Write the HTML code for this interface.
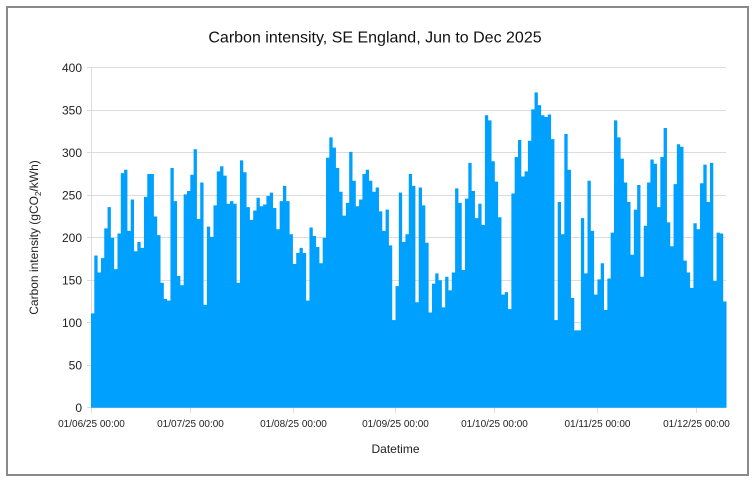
<!DOCTYPE html>
<html>
<head>
<meta charset="utf-8">
<style>
html,body{margin:0;padding:0;background:#fff;}
svg{display:block;}
text{font-family:"Liberation Sans",Arial,sans-serif;}
</style>
</head>
<body>
<svg width="754" height="481" viewBox="0 0 754 481" xmlns="http://www.w3.org/2000/svg">
<rect x="0" y="0" width="754" height="481" fill="#fff"/>
<rect x="7" y="7" width="741" height="468" fill="none" stroke="#8a8a8a" stroke-width="2"/>
<text x="375" y="42.5" font-size="16" text-anchor="middle" fill="#111">Carbon intensity, SE England, Jun to Dec 2025</text>
<g stroke="#dcdcdc" stroke-width="1">
<line x1="87" y1="67.5" x2="726" y2="67.5"/>
<line x1="87" y1="110.5" x2="726" y2="110.5"/>
<line x1="87" y1="152.5" x2="726" y2="152.5"/>
<line x1="87" y1="195.5" x2="726" y2="195.5"/>
<line x1="87" y1="237.5" x2="726" y2="237.5"/>
<line x1="87" y1="280.5" x2="726" y2="280.5"/>
<line x1="87" y1="322.5" x2="726" y2="322.5"/>
<line x1="87" y1="365.5" x2="726" y2="365.5"/>
<line x1="87" y1="407.5" x2="726" y2="407.5"/>
<line x1="91.5" y1="67.5" x2="91.5" y2="413"/>
<line x1="190.5" y1="408" x2="190.5" y2="413"/>
<line x1="293.5" y1="408" x2="293.5" y2="413"/>
<line x1="395.5" y1="408" x2="395.5" y2="413"/>
<line x1="494.5" y1="408" x2="494.5" y2="413"/>
<line x1="597.5" y1="408" x2="597.5" y2="413"/>
<line x1="696.5" y1="408" x2="696.5" y2="413"/>
</g>
<g transform="translate(91,407.7) scale(3.31,-0.85)">
<path fill="#00a0ff" d="M0,0 V111 H1 V179 H2 V159 H3 V176 H4 V211 H5 V236 H6 V200 H7 V163 H8 V205 H9 V276 H10 V280 H11 V208 H12 V245 H13 V184 H14 V195 H15 V188 H16 V248 H17 V275 H18 V275 H19 V225 H20 V203 H21 V147 H22 V128 H23 V126 H24 V282 H25 V243 H26 V155 H27 V144 H28 V251 H29 V255 H30 V274 H31 V304 H32 V222 H33 V265 H34 V121 H35 V213 H36 V201 H37 V238 H38 V278 H39 V284 H40 V273 H41 V240 H42 V243 H43 V240 H44 V147 H45 V291 H46 V277 H47 V236 H48 V221 H49 V232 H50 V247 H51 V237 H52 V239 H53 V249 H54 V253 H55 V235 H56 V210 H57 V243 H58 V261 H59 V243 H60 V204 H61 V169 H62 V182 H63 V188 H64 V182 H65 V126 H66 V212 H67 V202 H68 V189 H69 V170 H70 V200 H71 V294 H72 V318 H73 V306 H74 V282 H75 V254 H76 V226 H77 V241 H78 V301 H79 V267 H80 V237 H81 V245 H82 V275 H83 V280 H84 V267 H85 V254 H86 V259 H87 V231 H88 V208 H89 V233 H90 V191 H91 V103 H92 V143 H93 V253 H94 V195 H95 V204 H96 V275 H97 V261 H98 V124 H99 V259 H100 V238 H101 V194 H102 V112 H103 V146 H104 V158 H105 V150 H106 V118 H107 V154 H108 V138 H109 V159 H110 V258 H111 V241 H112 V162 H113 V246 H114 V288 H115 V255 H116 V223 H117 V240 H118 V215 H119 V344 H120 V338 H121 V290 H122 V266 H123 V224 H124 V133 H125 V136 H126 V116 H127 V252 H128 V295 H129 V315 H130 V272 H131 V278 H132 V314 H133 V351 H134 V371 H135 V356 H136 V344 H137 V342 H138 V345 H139 V316 H140 V103 H141 V242 H142 V204 H143 V322 H144 V280 H145 V129 H146 V91 H147 V91 H148 V223 H149 V158 H150 V267 H151 V208 H152 V133 H153 V151 H154 V170 H155 V115 H156 V152 H157 V206 H158 V338 H159 V318 H160 V293 H161 V265 H162 V242 H163 V180 H164 V233 H165 V262 H166 V154 H167 V214 H168 V265 H169 V292 H170 V287 H171 V236 H172 V295 H173 V329 H174 V218 H175 V190 H176 V263 H177 V310 H178 V307 H179 V173 H180 V159 H181 V141 H182 V217 H183 V210 H184 V264 H185 V286 H186 V242 H187 V288 H188 V149 H189 V206 H190 V205 H191 V125 H192 V0 Z"/>
</g>
<g font-size="12" fill="#222" text-anchor="end">
<text x="82" y="72">400</text>
<text x="82" y="114.5">350</text>
<text x="82" y="157">300</text>
<text x="82" y="199.5">250</text>
<text x="82" y="242">200</text>
<text x="82" y="284.5">150</text>
<text x="82" y="327">100</text>
<text x="82" y="369.5">50</text>
<text x="82" y="412">0</text>
</g>
<g font-size="10" fill="#222" text-anchor="middle">
<text x="91.5" y="427">01/06/25 00:00</text>
<text x="190.5" y="427">01/07/25 00:00</text>
<text x="293.5" y="427">01/08/25 00:00</text>
<text x="395.5" y="427">01/09/25 00:00</text>
<text x="494.5" y="427">01/10/25 00:00</text>
<text x="597.5" y="427">01/11/25 00:00</text>
<text x="696.5" y="427">01/12/25 00:00</text>
</g>
<text x="395.5" y="453" font-size="12" fill="#222" text-anchor="middle">Datetime</text>
<text transform="translate(38,237.5) rotate(-90)" font-size="12" fill="#222" text-anchor="middle">Carbon intensity (gCO<tspan font-size="8" dy="3">2</tspan><tspan dy="-3">/kWh)</tspan></text>
</svg>
</body>
</html>
